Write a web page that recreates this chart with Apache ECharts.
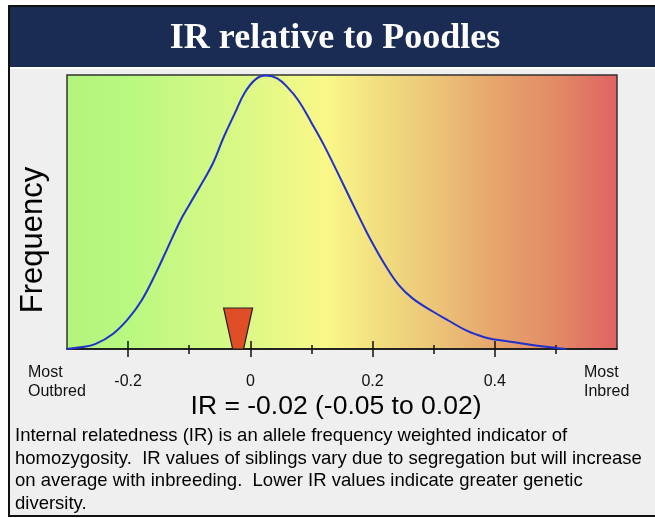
<!DOCTYPE html>
<html>
<head>
<meta charset="utf-8">
<script src="https://cdn.jsdelivr.net/npm/echarts@6/dist/echarts.min.js"></script>
<style>
html,body{margin:0;padding:0;background:#fff;}
#c{width:655px;height:518px;}
</style>
</head>
<body>
<div id="c"></div>
<script>
// ---- data ----
const titleText = 'IR relative to Poodles';
const irX = [-0.300, -0.278, -0.254, -0.225, -0.200, -0.178, -0.155, -0.137, -0.114, -0.100, -0.079, -0.061, -0.044, -0.026, -0.009, 0.009, 0.026, 0.044, 0.061, 0.079, 0.100, 0.120, 0.143, 0.167, 0.190, 0.200, 0.219, 0.243, 0.266, 0.300, 0.324, 0.354, 0.383, 0.400, 0.435, 0.470, 0.500, 0.517];
const freq = [0.000, 0.006, 0.018, 0.055, 0.110, 0.177, 0.275, 0.361, 0.471, 0.526, 0.606, 0.679, 0.771, 0.857, 0.936, 0.985, 0.998, 0.988, 0.955, 0.906, 0.826, 0.746, 0.643, 0.532, 0.428, 0.386, 0.312, 0.233, 0.184, 0.135, 0.104, 0.067, 0.043, 0.035, 0.024, 0.012, 0.004, 0.000];
const irValue = [-0.02];
const irRange = [-0.05, 0.02];
const majorTicks = [-0.2, 0, 0.2, 0.4];
const minorTicks = [-0.1, 0.1, 0.3, 0.5];
const tickLabels = ['-0.2', '0', '0.2', '0.4'];
const xMin = -0.3, xMax = 0.6;
const descLines = [
  'Internal relatedness (IR) is an allele frequency weighted indicator of',
  'homozygosity.  IR values of siblings vary due to segregation but will increase',
  'on average with inbreeding.  Lower IR values indicate greater genetic',
  'diversity.'
];

const chart = echarts.init(document.getElementById('c'), null, {renderer: 'canvas'});
const sans = '"Liberation Sans", Arial, Helvetica, sans-serif';

const bgGrad = new echarts.graphic.LinearGradient(0, 0, 1, 0, [
  {offset: 0.00, color: '#b2f47c'},
  {offset: 0.11, color: '#b8f880'},
  {offset: 0.22, color: '#ccf884'},
  {offset: 0.33, color: '#dcf886'},
  {offset: 0.47, color: '#faf888'},
  {offset: 0.56, color: '#f2e080'},
  {offset: 0.67, color: '#ecc478'},
  {offset: 0.78, color: '#e6a46c'},
  {offset: 0.89, color: '#e28a66'},
  {offset: 1.00, color: '#e06262'}
]);

function baseX(extra) {
  return Object.assign({
    type: 'value', min: xMin, max: xMax, position: 'bottom',
    splitLine: {show: false},
    axisLine: {show: false},
    axisLabel: {show: false},
    axisTick: {show: false}
  }, extra);
}

const option = {
  animation: false,
  backgroundColor: '#fff',
  graphic: [
    {type: 'rect', z: -10, shape: {x: 9, y: 6, width: 660, height: 510},
     style: {fill: '#efefef', stroke: '#111', lineWidth: 2}},
    {type: 'rect', z: -9, shape: {x: 10, y: 7, width: 650, height: 60},
     style: {fill: '#1b2c54'}},
    {type: 'rect', z: -9, shape: {x: 10, y: 67, width: 650, height: 2},
     style: {fill: '#ffffff'}},
    {type: 'text', z: 10, x: 335, y: 39,
     style: {text: titleText, fill: '#fff', font: 'bold 36px "Liberation Serif", "Times New Roman", serif',
             textAlign: 'center', textVerticalAlign: 'middle'}},
    {type: 'text', z: 10, x: 33, y: 240, rotation: Math.PI / 2,
     style: {text: 'Frequency', fill: '#000', font: '31px ' + sans,
             textAlign: 'center', textVerticalAlign: 'middle'}},
    {type: 'text', z: 10, x: 28, y: 363,
     style: {text: 'Most\nOutbred', fill: '#111', font: '16px ' + sans, lineHeight: 19,
             textAlign: 'left', textVerticalAlign: 'top'}},
    {type: 'text', z: 10, x: 584, y: 363,
     style: {text: 'Most\nInbred', fill: '#111', font: '16px ' + sans, lineHeight: 19,
             textAlign: 'left', textVerticalAlign: 'top'}},
    {type: 'text', z: 10, x: 336, y: 407,
     style: {text: 'IR = ' + irValue[0].toFixed(2) + ' (' + irRange[0].toFixed(2) + ' to ' + irRange[1].toFixed(2) + ')',
             fill: '#000', font: '26.5px ' + sans, textAlign: 'center', textVerticalAlign: 'middle'}},
    {type: 'text', z: 10, x: 15, y: 425,
     style: {text: descLines.join('\n'), fill: '#000', font: '18.5px ' + sans, lineHeight: 22.5,
             textAlign: 'left', textVerticalAlign: 'top'}}
  ],
  grid: {left: 67, right: 38, top: 75, bottom: 169, show: true,
         backgroundColor: bgGrad, borderColor: '#333', borderWidth: 1.5},
  xAxis: [
    baseX({
      axisLine: {show: true, lineStyle: {color: '#111', width: 1.5}},
      axisTick: {show: true, customValues: majorTicks, length: 8, inside: false, lineStyle: {color: '#111', width: 1.5}},
      axisLabel: {show: true, customValues: majorTicks, margin: 25, color: '#111', fontSize: 16, fontFamily: sans,
                  formatter: v => tickLabels[majorTicks.findIndex(t => Math.abs(t - v) < 1e-9)] || ''}
    }),
    baseX({axisTick: {show: true, customValues: majorTicks, length: 8, inside: true, lineStyle: {color: '#111', width: 1.5}}}),
    baseX({axisTick: {show: true, customValues: minorTicks, length: 5, inside: false, lineStyle: {color: '#111', width: 1.5}}}),
    baseX({axisTick: {show: true, customValues: minorTicks, length: 4, inside: true, lineStyle: {color: '#111', width: 1.5}}})
  ],
  yAxis: {type: 'value', min: 0, max: 1, show: false},
  series: [
    {
      type: 'line', xAxisIndex: 0, smooth: 0.4, symbol: 'none',
      data: irX.map((x, i) => [x, freq[i]]),
      lineStyle: {color: '#1f30cc', width: 2}, z: 3
    },
    {
      type: 'custom', xAxisIndex: 0, z: 4,
      data: irValue.map(v => [v, 0]),
      renderItem: function (params, api) {
        const p = api.coord([api.value(0), api.value(1)]);
        return {
          type: 'polygon',
          shape: {points: [[p[0] - 14.5, p[1] - 41], [p[0] + 14.5, p[1] - 41], [p[0] + 5.5, p[1]], [p[0] - 5.5, p[1]]]},
          style: {fill: '#e04e28', stroke: '#222', lineWidth: 1.2}
        };
      }
    }
  ]
};
chart.setOption(option);
</script>
</body>
</html>
